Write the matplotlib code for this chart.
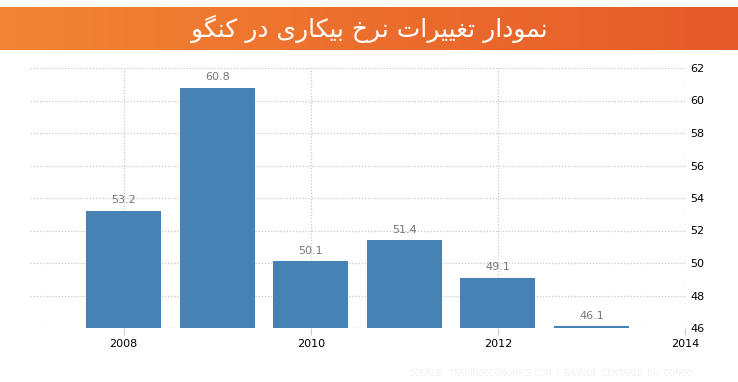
import matplotlib
matplotlib.use("Agg")
import matplotlib.pyplot as plt
import numpy as np

years = [2008, 2009, 2010, 2011, 2012, 2013]
rates = [53.2, 60.8, 50.1, 51.4, 49.1, 46.1]
xticks = [2008, 2010, 2012, 2014]
yticks = [46, 48, 50, 52, 54, 56, 58, 60, 62]
title = "نمودار تغییرات نرخ بیکاری در کنگو"
source = "SOURCE:  TRADINGECONOMICS.COM  |  BANQUE  CENTRALE  DU  CONGO"

# presentation forms: isolated, final, initial, medial
forms = {
    'ا': ('\uFE8D', '\uFE8E', None, None),
    'د': ('\uFEA9', '\uFEAA', None, None),
    'ر': ('\uFEAD', '\uFEAE', None, None),
    'و': ('\uFEED', '\uFEEE', None, None),
    'ب': ('\uFE8F', '\uFE90', '\uFE91', '\uFE92'),
    'ت': ('\uFE95', '\uFE96', '\uFE97', '\uFE98'),
    'خ': ('\uFEA5', '\uFEA6', '\uFEA7', '\uFEA8'),
    'غ': ('\uFECD', '\uFECE', '\uFECF', '\uFED0'),
    'م': ('\uFEE1', '\uFEE2', '\uFEE3', '\uFEE4'),
    'ن': ('\uFEE5', '\uFEE6', '\uFEE7', '\uFEE8'),
    'ی': ('\uFBFC', '\uFBFD', '\uFBFE', '\uFBFF'),
    'ک': ('\uFB8E', '\uFB8F', '\uFB90', '\uFB91'),
    'گ': ('\uFB92', '\uFB93', '\uFB94', '\uFB95'),
}


def shape(text):
    out = []
    for i, ch in enumerate(text):
        if ch not in forms:
            out.append(ch)
            continue
        prev = text[i - 1] if i > 0 else ''
        nxt = text[i + 1] if i + 1 < len(text) else ''
        joins_prev = prev in forms and forms[prev][2] is not None
        joins_next = forms[ch][2] is not None and nxt in forms
        iso, fin, ini, med = forms[ch]
        if joins_prev and joins_next:
            out.append(med)
        elif joins_prev:
            out.append(fin)
        elif joins_next:
            out.append(ini)
        else:
            out.append(iso)
    return ''.join(out)[::-1]


fig = plt.figure(figsize=(7.38, 3.82), dpi=100)

# banner
bax = fig.add_axes([0, 332 / 382, 1, 43 / 382])
grad = np.linspace(0, 1, 256).reshape(1, -1)
cmap = matplotlib.colors.LinearSegmentedColormap.from_list(
    "banner", ["#f28634", "#ec6e2d", "#e55a2a"])
bax.imshow(grad, aspect="auto", cmap=cmap, extent=[0, 1, 0, 1])
bax.set_xlim(0, 1)
bax.set_ylim(0, 1)
bax.axis("off")
bax.text(0.5, 0.5, shape(title), color="white", fontsize=18,
         family="DejaVu Sans", ha="center", va="center")

ax = fig.add_axes([30 / 738, 54 / 382, 655 / 738, 260 / 382])
bars = ax.bar(years, rates, width=0.8, color="#4682b4", bottom=0)
for x, v in zip(years, rates):
    ax.text(x, v + 0.35, f"{v}", ha="center", va="bottom",
            fontsize=8, color="#777777")

ax.set_xlim(2007, 2014)
ax.set_ylim(46, 62)
ax.set_xticks(xticks)
ax.set_yticks(yticks)
ax.yaxis.tick_right()
ax.tick_params(axis="both", labelsize=8, length=0, colors="black", pad=4)
ax.tick_params(axis="x", length=5, color="#cccccc", pad=3)
ax.grid(True, linestyle=(0, (1, 1.5)), color="#c8c8c8", linewidth=0.9)
ax.set_axisbelow(True)
for s in ax.spines.values():
    s.set_visible(False)

fig.text(693 / 738, 1 - 374 / 382, source, ha="right", va="center",
         fontsize=5.6, color="#f0f0f0")

fig.savefig("out.png", dpi=100)
